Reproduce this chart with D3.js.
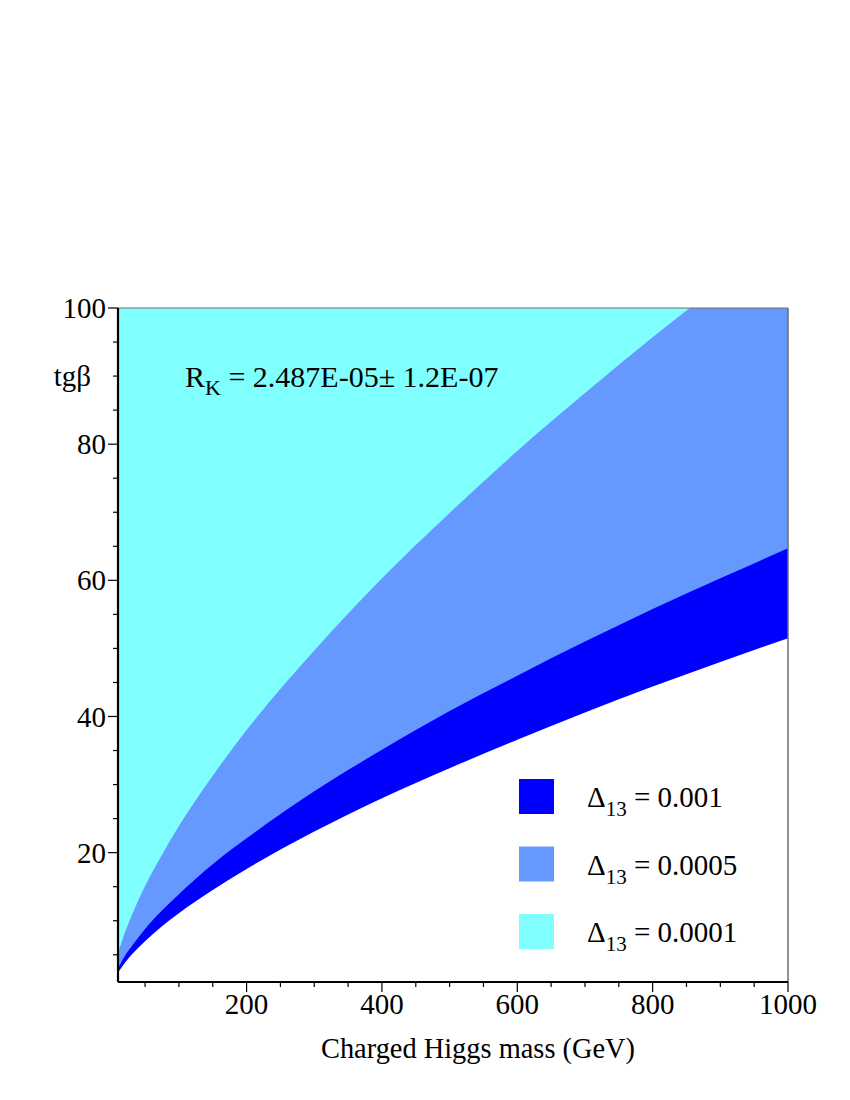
<!DOCTYPE html>
<html lang="en">
<head>
    <meta charset="UTF-8">
    <title>R_K allowed region</title>
    <script src="https://d3js.org/d3.v7.min.js"></script>
    <style>
        body { margin: 0; background: #fff; }
        svg text { font-family: "Liberation Serif", "Times New Roman", serif; fill: #000; }
    </style>
</head>
<body>
    <svg width="850" height="1100"></svg>
    <script>
        // charged Higgs mass (GeV) sample points
        const mass = [10, 20, 30, 50, 75, 100, 150, 200, 300, 400, 500, 600, 700, 800, 900, 1000];
        // lower edge of the dark band (white below)
        const darkLow = [2.4, 3.8, 5.0, 7.0, 9.2, 11.1, 14.5, 17.6, 23.1, 28.0, 32.4, 36.6, 40.6, 44.4, 48.0, 51.5];
        // edge between dark band and medium band
        const midLow = [3.0, 4.8, 6.2, 8.8, 11.5, 13.9, 18.3, 22.1, 29.0, 35.1, 40.8, 46.0, 51.0, 55.8, 60.3, 64.7];
        // edge between medium band and cyan band (leaves the frame at tgβ = 100)
        const cyanMass = [10, 20, 30, 50, 75, 100, 150, 200, 300, 400, 500, 600, 700, 800, 855];
        const cyanLow = [5.2, 8.2, 10.7, 15.1, 19.7, 23.9, 31.3, 38.0, 49.7, 60.3, 69.9, 79.0, 87.5, 95.7, 100];

        const xTicks = [200, 400, 600, 800, 1000];
        const yTicks = [20, 40, 60, 80, 100];

        const legendItems = [
            { label: "0.001", color: "#0000ff" },
            { label: "0.0005", color: "#6699ff" },
            { label: "0.0001", color: "#80ffff" }
        ];

        const margin = {top: 308, left: 118},
              width = 670,
              height = 674;

        const svg = d3.select("svg");
        const g = svg.append("g")
            .attr("transform", `translate(${margin.left}, ${margin.top})`);

        const x = d3.scaleLinear().domain([10, 1000]).range([0, width]);
        const y = d3.scaleLinear().domain([1, 100]).range([height, 0]);

        g.append("clipPath").attr("id", "clip")
            .append("rect").attr("width", width).attr("height", height);

        const plot = g.append("g").attr("clip-path", "url(#clip)");

        function band(ms, vals, color) {
            const pts = ms.map((m, i) => [m, vals[i]]);
            const area = d3.area()
                .x(d => x(d[0]))
                .y0(d => y(d[1]))
                .y1(y(100) - 2)
                .curve(d3.curveMonotoneX);
            plot.append("path")
                .datum(pts)
                .attr("d", area)
                .attr("fill", color);
        }

        band(mass, darkLow, "#0000ff");
        band(mass, midLow, "#6699ff");
        band(cyanMass, cyanLow, "#80ffff");

        // frame: top and right thin grey
        g.append("line").attr("x1", 0).attr("x2", width).attr("y1", 0).attr("y2", 0)
            .attr("stroke", "#6e6e6e").attr("stroke-width", 1.2);
        g.append("line").attr("x1", width).attr("x2", width).attr("y1", 0).attr("y2", height)
            .attr("stroke", "#6e6e6e").attr("stroke-width", 1.5);

        // x axis
        const xMinor = d3.range(50, 1001, 50);
        const xAxis = g.append("g").attr("transform", `translate(0, ${height})`);
        xAxis.selectAll(".tick")
            .data(xMinor)
            .enter().append("line")
            .attr("x1", d => x(d)).attr("x2", d => x(d))
            .attr("y1", 0)
            .attr("y2", d => xTicks.includes(d) ? 10 : 5)
            .attr("stroke", "#000").attr("stroke-width", 1.2);
        xAxis.selectAll(".lbl")
            .data(xTicks)
            .enter().append("text")
            .attr("x", d => x(d))
            .attr("y", 32)
            .attr("text-anchor", "middle")
            .attr("font-size", 29)
            .text(d => d);
        xAxis.append("line").attr("x1", 0).attr("x2", width)
            .attr("stroke", "#000").attr("stroke-width", 2.2);

        // y axis
        const yMinor = d3.range(5, 101, 5);
        const yAxis = g.append("g");
        yAxis.selectAll(".tick")
            .data(yMinor)
            .enter().append("line")
            .attr("y1", d => y(d)).attr("y2", d => y(d))
            .attr("x1", 0)
            .attr("x2", d => yTicks.includes(d) ? -10 : -5)
            .attr("stroke", "#000").attr("stroke-width", 1.2);
        yAxis.selectAll(".lbl")
            .data(yTicks)
            .enter().append("text")
            .attr("x", -12)
            .attr("y", d => y(d))
            .attr("dy", "0.35em")
            .attr("text-anchor", "end")
            .attr("font-size", 29)
            .text(d => d);
        yAxis.append("line").attr("y1", 0).attr("y2", height)
            .attr("stroke", "#000").attr("stroke-width", 2.2);

        yAxis.append("text")
            .attr("x", -27)
            .attr("y", y(90))
            .attr("dy", "0.35em")
            .attr("text-anchor", "end")
            .attr("font-size", 29)
            .text("tgβ");

        // axis title
        svg.append("text")
            .attr("x", 478)
            .attr("y", 1058)
            .attr("text-anchor", "middle")
            .attr("font-size", 28.4)
            .text("Charged Higgs mass (GeV)");

        // R_K annotation
        const rk = svg.append("text")
            .attr("x", 185)
            .attr("y", 387)
            .attr("font-size", 30);
        rk.append("tspan").text("R");
        rk.append("tspan").attr("font-size", 22).attr("dy", 8).text("K");
        rk.append("tspan").attr("dy", -8).text(" = 2.487E-05± 1.2E-07");

        // legend
        const leg = svg.append("g").attr("transform", "translate(519, 779)");
        legendItems.forEach((d, i) => {
            const row = leg.append("g").attr("transform", `translate(0, ${i * 67.5})`);
            row.append("rect")
                .attr("width", 35).attr("height", 35)
                .attr("fill", d.color);
            const t = row.append("text")
                .attr("x", 68).attr("y", 28)
                .attr("font-size", 29);
            t.append("tspan").text("Δ");
            t.append("tspan").attr("font-size", 21).attr("dy", 9).text("13");
            t.append("tspan").attr("dy", -9).text(" = " + d.label);
        });
    </script>
</body>
</html>
